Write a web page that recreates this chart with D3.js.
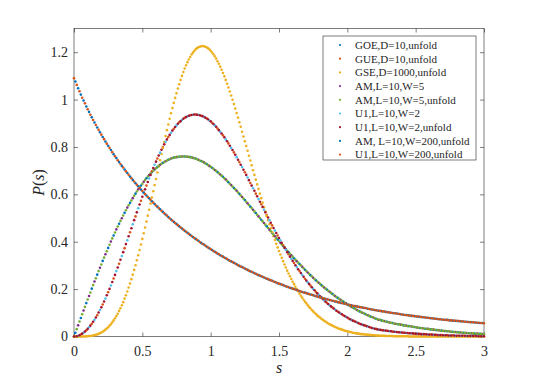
<!DOCTYPE html>
<html><head><meta charset="utf-8">
<script src="https://cdn.jsdelivr.net/npm/d3@7"></script>
<style>
body{margin:0;background:#fff}
svg{display:block}
text{font-family:"Liberation Serif","Times New Roman",serif;fill:#262626}
</style>
</head><body>
<svg id="chart" width="540" height="378"></svg>
<script>
// ---------- data ----------
const xTicks = [0, 0.5, 1, 1.5, 2, 2.5, 3];
const yTicks = [0, 0.2, 0.4, 0.6, 0.8, 1, 1.2];
const binWidth = 0.01;           // histogram bin spacing in s
const seriesLabels = [
  "GOE,D=10,unfold", "GUE,D=10,unfold", "GSE,D=1000,unfold",
  "AM,L=10,W=5", "AM,L=10,W=5,unfold", "U1,L=10,W=2",
  "U1,L=10,W=2,unfold", "AM, L=10,W=200,unfold", "U1,L=10,W=200,unfold"
];
// first bin index and bin stride of each series
const seriesFirstBin = [1, 1, 0, 3, 0, 3, 0, 1, 0];
const seriesBinStride = [4, 4, 1, 4, 2, 4, 2, 2, 2];

const goeD10 = [0.016,0.078,0.141,0.202,0.261,0.319,0.374,0.426,0.476,0.522,
0.564,0.603,0.637,0.668,0.694,0.715,0.733,0.746,0.755,0.759,
0.760,0.757,0.751,0.741,0.728,0.712,0.694,0.674,0.651,0.627,
0.602,0.576,0.548,0.521,0.493,0.465,0.437,0.409,0.382,0.356,
0.330,0.306,0.282,0.259,0.237,0.217,0.198,0.180,0.163,0.147,
0.132,0.119,0.106,0.095,0.084,0.075,0.068,0.062,0.057,0.052,
0.047,0.044,0.040,0.036,0.033,0.030,0.027,0.025,0.022,0.020,
0.018,0.016,0.014,0.012,0.011];

const gueD10 = [0,0.008,0.026,0.054,0.090,0.135,0.187,0.245,0.307,0.373,
0.440,0.507,0.573,0.637,0.697,0.751,0.800,0.842,0.877,0.904,
0.923,0.934,0.937,0.932,0.921,0.902,0.878,0.849,0.815,0.777,
0.736,0.693,0.648,0.603,0.558,0.513,0.469,0.426,0.385,0.347,
0.310,0.276,0.244,0.215,0.188,0.164,0.142,0.123,0.105,0.090,
0.076,0.065,0.054,0.046,0.038,0.032,0.027,0.024,0.021,0.018,
0.016,0.014,0.012,0.011,0.009,0.008,0.007,0.006,0.005,0.004,
0.003,0.003,0.002,0.002,0.001];

const gseD1000 = [0,0,0,0,0,0,0,0,0,0.001,
0.001,0.002,0.002,0.003,0.004,0.006,0.007,0.009,0.011,0.014,
0.017,0.020,0.024,0.029,0.034,0.039,0.046,0.052,0.060,0.068,
0.077,0.086,0.096,0.108,0.119,0.132,0.145,0.160,0.174,0.190,
0.207,0.224,0.242,0.261,0.281,0.301,0.322,0.343,0.365,0.388,
0.412,0.436,0.460,0.485,0.510,0.535,0.561,0.587,0.613,0.639,
0.665,0.692,0.718,0.744,0.770,0.796,0.821,0.846,0.871,0.895,
0.919,0.942,0.964,0.986,1.007,1.027,1.047,1.065,1.083,1.100,
1.116,1.131,1.145,1.158,1.169,1.180,1.190,1.198,1.205,1.212,
1.217,1.221,1.223,1.225,1.226,1.225,1.223,1.221,1.217,1.212,
1.206,1.199,1.191,1.183,1.173,1.162,1.151,1.139,1.126,1.112,
1.098,1.083,1.067,1.051,1.034,1.017,0.999,0.981,0.962,0.943,
0.924,0.904,0.885,0.864,0.844,0.824,0.804,0.784,0.763,0.743,
0.723,0.702,0.682,0.662,0.642,0.623,0.603,0.584,0.565,0.546,
0.527,0.509,0.491,0.474,0.457,0.440,0.423,0.407,0.391,0.376,
0.361,0.346,0.332,0.318,0.304,0.291,0.278,0.266,0.254,0.243,
0.231,0.221,0.210,0.200,0.191,0.181,0.172,0.164,0.155,0.147,
0.140,0.132,0.125,0.119,0.112,0.106,0.100,0.095,0.089,0.084,
0.080,0.075,0.071,0.066,0.063,0.059,0.055,0.052,0.049,0.046,
0.043,0.040,0.038,0.035,0.033,0.031,0.029,0.027,0.025,0.023,
0.022,0.020,0.019,0.018,0.016,0.015,0.014,0.013,0.012,0.011,
0.010,0.010,0.009,0.008,0.008,0.007,0.007,0.006,0.006,0.005,
0.005,0.004,0.004,0.004,0.003,0.003,0.003,0.003,0.002,0.002,
0.002,0.002,0.002,0.002,0.001,0.001,0.001,0.001,0.001,0.001,
0.001,0.001,0.001,0.001,0.001,0,0,0,0,0,
0,0,0,0,0,0,0,0,0,0,
0,0,0,0,0,0,0,0,0,0,
0,0,0,0,0,0,0,0,0,0,
0,0,0,0,0,0,0,0,0,0,
0,0,0,0,0,0,0,0,0,0,
0];

const amW5 = [0.047,0.110,0.171,0.232,0.290,0.347,0.401,0.452,0.499,0.544,
0.584,0.621,0.653,0.681,0.705,0.725,0.740,0.751,0.757,0.760,
0.759,0.754,0.746,0.735,0.720,0.703,0.684,0.663,0.639,0.615,
0.589,0.562,0.535,0.507,0.479,0.451,0.423,0.396,0.369,0.343,
0.318,0.294,0.270,0.248,0.227,0.207,0.189,0.171,0.155,0.140,
0.125,0.112,0.100,0.090,0.080,0.071,0.065,0.059,0.054,0.050,
0.046,0.042,0.038,0.035,0.032,0.029,0.026,0.023,0.021,0.019,
0.017,0.015,0.013,0.012,0.010];

const amW5Unfold = [0,0.031,0.063,0.094,0.125,0.156,0.186,0.217,0.246,0.276,
0.304,0.333,0.360,0.387,0.414,0.439,0.464,0.488,0.511,0.533,
0.554,0.574,0.594,0.612,0.629,0.645,0.661,0.675,0.688,0.700,
0.710,0.720,0.729,0.736,0.743,0.748,0.753,0.756,0.758,0.760,
0.760,0.760,0.758,0.756,0.752,0.748,0.743,0.738,0.731,0.724,
0.716,0.708,0.699,0.689,0.679,0.668,0.657,0.645,0.633,0.621,
0.608,0.595,0.582,0.569,0.555,0.542,0.528,0.514,0.500,0.486,
0.472,0.458,0.444,0.430,0.416,0.403,0.389,0.376,0.362,0.349,
0.337,0.324,0.312,0.300,0.288,0.276,0.265,0.254,0.243,0.232,
0.222,0.212,0.202,0.193,0.184,0.175,0.167,0.159,0.151,0.143,
0.136,0.129,0.122,0.116,0.109,0.103,0.098,0.092,0.087,0.082,
0.077,0.073,0.070,0.066,0.063,0.060,0.058,0.055,0.053,0.051,
0.049,0.046,0.044,0.043,0.041,0.039,0.037,0.036,0.034,0.033,
0.031,0.030,0.028,0.027,0.025,0.024,0.023,0.022,0.020,0.019,
0.018,0.017,0.016,0.016,0.015,0.014,0.013,0.012,0.011,0.011,0.010];

const u1W2 = [0.003,0.016,0.039,0.071,0.112,0.160,0.215,0.276,0.340,0.406,
0.474,0.541,0.606,0.667,0.725,0.776,0.822,0.860,0.891,0.914,
0.929,0.936,0.936,0.927,0.912,0.891,0.864,0.832,0.796,0.757,
0.715,0.671,0.626,0.580,0.535,0.491,0.447,0.406,0.366,0.328,
0.293,0.260,0.229,0.201,0.176,0.153,0.132,0.114,0.097,0.083,
0.070,0.059,0.050,0.042,0.035,0.029,0.025,0.022,0.020,0.017,
0.015,0.013,0.012,0.010,0.008,0.007,0.006,0.005,0.004,0.004,
0.003,0.002,0.002,0.002,0.001];

const u1W2Unfold = [0,0.001,0.005,0.012,0.021,0.032,0.046,0.062,0.080,0.101,
0.123,0.148,0.174,0.201,0.230,0.260,0.291,0.324,0.356,0.390,
0.423,0.457,0.491,0.524,0.557,0.590,0.621,0.652,0.682,0.711,
0.738,0.764,0.788,0.811,0.832,0.851,0.869,0.884,0.898,0.909,
0.919,0.926,0.932,0.935,0.937,0.936,0.934,0.930,0.924,0.917,
0.908,0.897,0.885,0.871,0.857,0.841,0.824,0.805,0.787,0.767,
0.746,0.725,0.704,0.682,0.660,0.637,0.615,0.592,0.569,0.547,
0.524,0.502,0.480,0.458,0.437,0.416,0.395,0.375,0.356,0.337,
0.319,0.301,0.284,0.268,0.252,0.236,0.222,0.208,0.195,0.182,
0.170,0.158,0.147,0.137,0.127,0.118,0.109,0.101,0.094,0.086,
0.080,0.073,0.067,0.062,0.057,0.052,0.048,0.044,0.040,0.036,
0.033,0.030,0.028,0.026,0.025,0.023,0.022,0.020,0.019,0.018,
0.017,0.016,0.015,0.014,0.013,0.012,0.011,0.010,0.010,0.009,
0.008,0.008,0.007,0.006,0.006,0.005,0.005,0.004,0.004,0.004,
0.003,0.003,0.003,0.003,0.002,0.002,0.002,0.002,0.001,0.001,0.001];

const amW200Unfold = [1.076,1.048,1.021,0.996,0.971,0.948,0.925,0.903,0.882,0.862,
0.842,0.823,0.805,0.787,0.769,0.753,0.736,0.720,0.705,0.690,
0.675,0.661,0.647,0.634,0.620,0.608,0.595,0.583,0.571,0.559,
0.548,0.537,0.526,0.515,0.504,0.494,0.484,0.475,0.465,0.456,
0.446,0.438,0.429,0.420,0.412,0.404,0.395,0.388,0.380,0.372,
0.365,0.358,0.350,0.343,0.337,0.330,0.323,0.317,0.311,0.305,
0.298,0.293,0.287,0.281,0.275,0.270,0.265,0.259,0.254,0.249,
0.244,0.239,0.235,0.230,0.225,0.221,0.217,0.212,0.208,0.204,
0.200,0.196,0.192,0.188,0.185,0.181,0.177,0.174,0.170,0.167,
0.164,0.160,0.157,0.154,0.151,0.148,0.145,0.142,0.140,0.137,
0.134,0.132,0.129,0.127,0.124,0.122,0.120,0.117,0.115,0.113,
0.111,0.109,0.107,0.105,0.103,0.101,0.099,0.098,0.096,0.094,
0.092,0.091,0.089,0.087,0.086,0.084,0.083,0.081,0.080,0.079,
0.077,0.076,0.075,0.073,0.072,0.071,0.070,0.068,0.067,0.066,
0.065,0.064,0.063,0.062,0.061,0.060,0.059,0.058,0.057,0.057];

const u1W200Unfold = [1.090,1.062,1.035,1.008,0.984,0.959,0.936,0.914,0.893,0.872,
0.852,0.833,0.814,0.796,0.778,0.761,0.744,0.728,0.713,0.697,
0.683,0.668,0.654,0.640,0.627,0.614,0.601,0.589,0.577,0.565,
0.553,0.542,0.531,0.520,0.510,0.499,0.489,0.479,0.470,0.460,
0.451,0.442,0.433,0.424,0.416,0.408,0.399,0.391,0.384,0.376,
0.369,0.361,0.354,0.347,0.340,0.333,0.327,0.320,0.314,0.308,
0.301,0.295,0.290,0.284,0.278,0.273,0.267,0.262,0.257,0.252,
0.247,0.242,0.237,0.232,0.228,0.223,0.219,0.214,0.210,0.206,
0.202,0.198,0.194,0.190,0.186,0.183,0.179,0.176,0.172,0.169,
0.165,0.162,0.159,0.156,0.153,0.150,0.147,0.144,0.141,0.138,
0.135,0.133,0.130,0.128,0.125,0.123,0.121,0.119,0.116,0.114,
0.112,0.110,0.108,0.106,0.104,0.102,0.100,0.098,0.097,0.095,
0.093,0.091,0.090,0.088,0.087,0.085,0.084,0.082,0.081,0.079,
0.078,0.077,0.075,0.074,0.073,0.071,0.070,0.069,0.068,0.067,
0.066,0.065,0.064,0.062,0.061,0.060,0.060,0.059,0.058,0.057,0.056];

const seriesValues = [goeD10, gueD10, gseD1000, amW5, amW5Unfold, u1W2, u1W2Unfold, amW200Unfold, u1W200Unfold];

// ---------- styles ----------
const seriesColors = ["#0072BD","#D95319","#EDB120","#7E2F8E","#77AC30","#4DBEEE","#A2142F","#0072BD","#D95319"];
const axisColor = "#262626";
const serif = '"Liberation Serif","Times New Roman",serif';

// ---------- layout ----------
const svg = d3.select("#chart");
const plot = {left: 74, right: 484, top: 28.5, bottom: 336.5};
const x = d3.scaleLinear().domain([0, 3]).range([plot.left, plot.right]);
const y = d3.scaleLinear().domain([0, 1.3]).range([plot.bottom, plot.top]);

// axes box
svg.append("rect")
  .attr("x", plot.left).attr("y", plot.top)
  .attr("width", plot.right - plot.left).attr("height", plot.bottom - plot.top)
  .attr("fill", "none").attr("stroke", axisColor).attr("stroke-width", 0.6);

const tickLen = 4;
const fmt = d => String(d);

const gx = svg.append("g").attr("transform", `translate(0,${plot.bottom})`)
  .call(d3.axisBottom(x).tickValues(xTicks).tickFormat(fmt).tickSizeInner(-tickLen).tickSizeOuter(0).tickPadding(10));
const gxt = svg.append("g").attr("transform", `translate(0,${plot.top})`)
  .call(d3.axisTop(x).tickValues(xTicks).tickFormat("").tickSizeInner(-tickLen).tickSizeOuter(0));
const gy = svg.append("g").attr("transform", `translate(${plot.left},0)`)
  .call(d3.axisLeft(y).tickValues(yTicks).tickFormat(fmt).tickSizeInner(-tickLen).tickSizeOuter(0).tickPadding(6));
const gyr = svg.append("g").attr("transform", `translate(${plot.right},0)`)
  .call(d3.axisRight(y).tickValues(yTicks).tickFormat("").tickSizeInner(-tickLen).tickSizeOuter(0));
[gx, gxt, gy, gyr].forEach(g => {
  g.attr("font-family", serif);
  g.select(".domain").remove();
  g.selectAll(".tick line").attr("stroke", axisColor).attr("stroke-width", 0.6);
  g.selectAll(".tick text").attr("fill", axisColor)
    .style("font-family", serif).style("font-size", "14px");
});

// axis labels
svg.append("text").attr("x", (plot.left + plot.right) / 2).attr("y", 373)
  .attr("text-anchor", "middle").style("font-size", "16px").style("font-style", "italic").text("s");
const yl = svg.append("text")
  .attr("transform", `translate(44,${(plot.top + plot.bottom) / 2}) rotate(-90)`)
  .attr("text-anchor", "middle").style("font-size", "16px");
yl.append("tspan").style("font-style", "italic").text("P");
yl.append("tspan").text("(");
yl.append("tspan").style("font-style", "italic").text("s");
yl.append("tspan").text(")");

// data dots
const dotsLayer = svg.append("g");
seriesValues.forEach((vals, si) => {
  const first = seriesFirstBin[si], stride = seriesBinStride[si];
  dotsLayer.append("g").selectAll("circle")
    .data(vals.map((v, i) => ({s: (first + i * stride) * binWidth, p: v})))
    .join("circle")
    .attr("cx", d => x(d.s)).attr("cy", d => y(d.p))
    .attr("r", 1.3).attr("fill", seriesColors[si]);
});

// legend
const leg = {x: 323, y: 36, w: 153, h: 124, row0: 45, rowH: 13.7};
const lg = svg.append("g");
lg.append("rect").attr("x", leg.x).attr("y", leg.y).attr("width", leg.w).attr("height", leg.h)
  .attr("fill", "#fff").attr("stroke", axisColor).attr("stroke-width", 0.6);
seriesLabels.forEach((lab, i) => {
  const cy = leg.row0 + i * leg.rowH;
  lg.append("circle").attr("cx", leg.x + 17).attr("cy", cy).attr("r", 1.1).attr("fill", seriesColors[i]);
  lg.append("text").attr("x", leg.x + 32).attr("y", cy).attr("dy", "0.35em")
    .style("font-size", "11px").text(lab);
});
</script>
</body></html>
